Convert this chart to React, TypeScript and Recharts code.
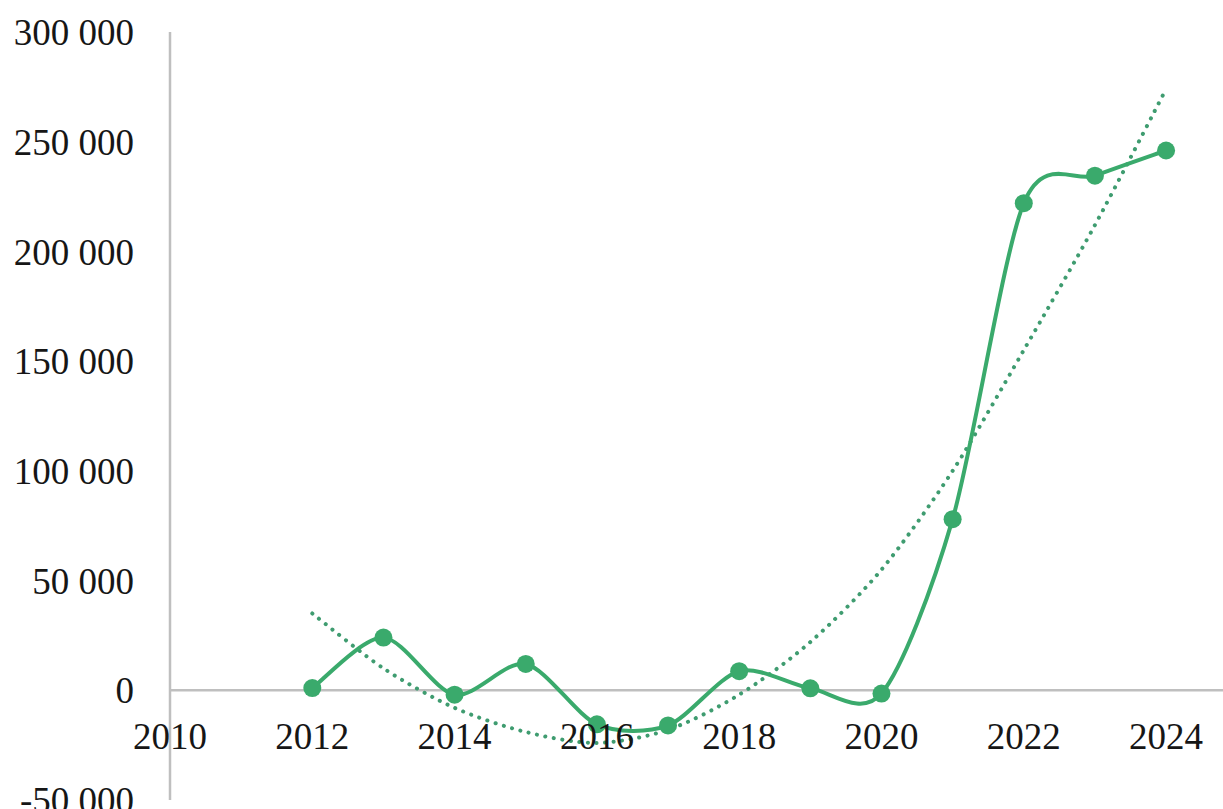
import React from "react";
import {
  ComposedChart,
  Line,
  XAxis,
  YAxis,
  ReferenceLine,
  ReferenceDot,
} from "recharts";

// values
const years = [2012, 2013, 2014, 2015, 2016, 2017, 2018, 2019, 2020, 2021, 2022, 2023, 2024];
const values = [1000, 24000, -2000, 12000, -15500, -16000, 8700, 900, -1500, 78000, 222000, 234500, 246000];
const trend = [35000, 10000, -8000, -19000, -24000, -18000, -2000, 22000, 55000, 100000, 155000, 212000, 274000];

const xTicks = [2010, 2012, 2014, 2016, 2018, 2020, 2022, 2024];
const yTicks = [-50000, 0, 50000, 100000, 150000, 200000, 250000, 300000];

const data = years.map((year, i) => ({ year, value: values[i], trend: trend[i] }));

const GREEN = "#3aaa6c";
const TREND = "#3f9c70";
const AXIS = "#bfbfbf";
const FONT = "'Times New Roman', 'Liberation Serif', serif";

const fmt = (v: number) => {
  const s = Math.abs(v).toString().replace(/\B(?=(\d{3})+(?!\d))/g, " ");
  return (v < 0 ? "-" : "") + s;
};

// Excel-like smoothing (Catmull-Rom, slightly tightened)
const smooth = (context: any) => {
  let pts: number[][] = [];
  const k = 1 / 7;
  return {
    areaStart() {},
    areaEnd() {},
    lineStart() {
      pts = [];
    },
    point(x: number, y: number) {
      pts.push([x, y]);
    },
    lineEnd() {
      if (!pts.length) return;
      context.moveTo(pts[0][0], pts[0][1]);
      for (let i = 0; i < pts.length - 1; i++) {
        const p0 = pts[i - 1] || pts[i];
        const p1 = pts[i];
        const p2 = pts[i + 1];
        const p3 = pts[i + 2] || p2;
        context.bezierCurveTo(
          p1[0] + (p2[0] - p0[0]) * k,
          p1[1] + (p2[1] - p0[1]) * k,
          p2[0] - (p3[0] - p1[0]) * k,
          p2[1] - (p3[1] - p1[1]) * k,
          p2[0],
          p2[1]
        );
      }
    },
  };
};

export default function App() {
  return (
    <div style={{ position: "absolute", left: 0, top: 0, background: "#fff" }}>
      <ComposedChart
        width={1223}
        height={809}
        data={data}
        margin={{ top: 32, right: 0, left: 0, bottom: 9 }}
      >
        <XAxis
          dataKey="year"
          type="number"
          domain={[2010, 2024.8]}
          ticks={xTicks}
          hide
        />
        <YAxis
          type="number"
          domain={[-50000, 300000]}
          ticks={yTicks}
          width={170}
          tickFormatter={fmt}
          tickLine={false}
          tickSize={0}
          tickMargin={36}
          axisLine={{ stroke: AXIS, strokeWidth: 2.5 }}
          tick={{ fill: "#161616", fontSize: 37, fontFamily: FONT }}
          interval={0}
        />
        <ReferenceLine y={0} stroke={AXIS} strokeWidth={2.5} />
        {xTicks.map((t) => (
          <ReferenceDot
            key={t}
            x={t}
            y={0}
            r={0}
            fill="none"
            stroke="none"
            label={{
              value: String(t),
              position: "bottom",
              offset: 32,
              fill: "#161616",
              fontSize: 37,
              fontFamily: FONT,
            }}
          />
        ))}
        <Line
          dataKey="trend"
          type={smooth as any}
          stroke={TREND}
          strokeWidth={4}
          strokeDasharray="0.1 8.5"
          strokeLinecap="round"
          dot={false}
          activeDot={false}
          isAnimationActive={false}
        />
        <Line
          dataKey="value"
          type={smooth as any}
          stroke={GREEN}
          strokeWidth={4}
          dot={{ r: 9, fill: GREEN, stroke: GREEN, strokeWidth: 0 }}
          activeDot={false}
          isAnimationActive={false}
        />
      </ComposedChart>
    </div>
  );
}
